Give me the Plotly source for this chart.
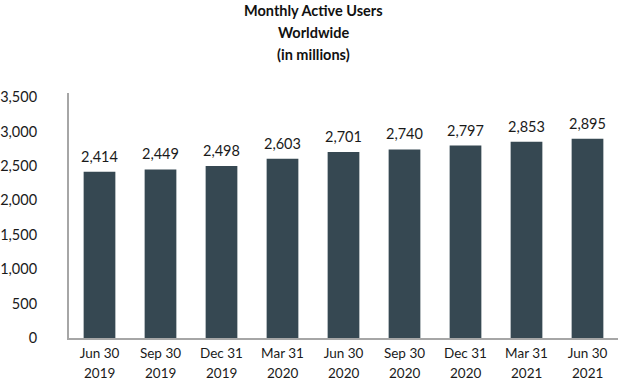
import plotly.graph_objects as go

periods = ["Jun 30", "Sep 30", "Dec 31", "Mar 31", "Jun 30", "Sep 30", "Dec 31", "Mar 31", "Jun 30"]
years = ["2019", "2019", "2019", "2020", "2020", "2020", "2020", "2021", "2021"]
mau = [2414, 2449, 2498, 2603, 2701, 2740, 2797, 2853, 2895]
title_lines = ["Monthly Active Users", "Worldwide", "(in millions)"]
y_ticks = [0, 500, 1000, 1500, 2000, 2500, 3000, 3500]

cats = list(range(len(mau)))
FONT = "Lato, 'Open Sans', sans-serif"

fig = go.Figure()
fig.add_trace(go.Bar(
    x=cats, y=mau,
    marker=dict(color="#364852", line=dict(width=0)),
    hoverinfo="skip",
))

annotations = []
for i, v in enumerate(mau):
    annotations.append(dict(x=i, y=v, xref="x", yref="y", text=f"{v:,}",
                            showarrow=False, yanchor="bottom", yshift=5,
                            font=dict(family=FONT, size=14.5, color="#1a1a1a")))
for i, yr in enumerate(years):
    annotations.append(dict(x=i, y=0, xref="x", yref="y", text=yr,
                            showarrow=False, yanchor="middle", yshift=-35,
                            font=dict(family=FONT, size=13.5, color="#1a1a1a")))
for j, t in enumerate(title_lines):
    annotations.append(dict(x=0.445, xref="paper", y=1, yref="paper", text=f"<b>{t}</b>",
                            showarrow=False, xanchor="center", yanchor="middle",
                            yshift=[83, 61, 39][j],
                            font=dict(family=FONT, size=14.5, color="#111")))

fig.update_layout(
    width=618, height=390,
    margin=dict(l=65, r=0, t=93, b=52),
    paper_bgcolor="white", plot_bgcolor="white",
    showlegend=False,
    bargap=0.48,
    annotations=annotations,
    xaxis=dict(
        range=[-0.5, len(mau) - 0.5],
        tickmode="array", tickvals=cats, ticktext=periods,
        showline=True, linecolor="#a6a6a6", linewidth=2,
        showgrid=False, zeroline=False, ticks="",
        ticklabelstandoff=2,
        tickfont=dict(family=FONT, size=13.5, color="#1a1a1a"),
        fixedrange=True,
    ),
    yaxis=dict(
        range=[0, 3560],
        tickmode="array", tickvals=y_ticks, ticktext=[f"{t:,}" for t in y_ticks],
        showline=True, linecolor="#a6a6a6", linewidth=2,
        showgrid=False, zeroline=False, ticks="",
        ticklabelstandoff=27,
        tickfont=dict(family=FONT, size=14.5, color="#1a1a1a"),
        fixedrange=True,
    ),
)

fig.write_html("out.html", config={"displayModeBar": False},
               post_script="document.body.style.margin='0';document.body.style.overflow='hidden';")
